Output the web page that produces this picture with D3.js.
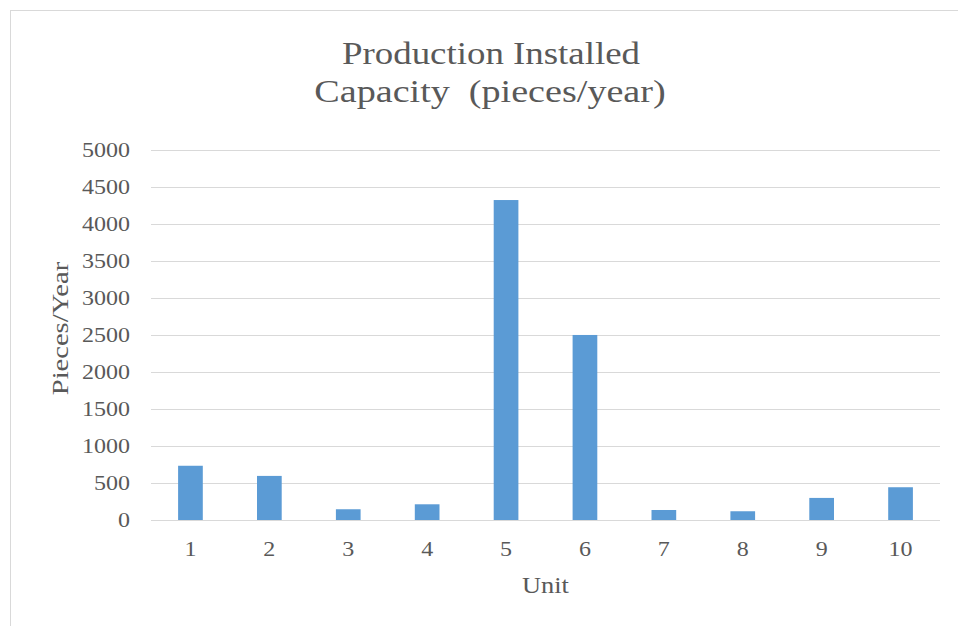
<!DOCTYPE html>
<html>
<head>
<meta charset="utf-8">
<script src="https://cdn.jsdelivr.net/npm/d3@7"></script>
<style>
  html, body { margin: 0; padding: 0; background: #fff; }
  svg { display: block; font-family: "Liberation Serif", "Times New Roman", serif; }
</style>
</head>
<body>
<div id="chart"></div>
<script>
const units = ["1", "2", "3", "4", "5", "6", "7", "8", "9", "10"];
const capacity = [732, 595, 145, 212, 4318, 2497, 135, 118, 298, 442];
const yTicks = [0, 500, 1000, 1500, 2000, 2500, 3000, 3500, 4000, 4500, 5000];
const titleLines = ["Production Installed", "Capacity  (pieces/year)"];

const width = 958, height = 626;
const margin = { top: 149.5, right: 18, bottom: 106, left: 151 };
const TEXT = "#595959";
const STRETCH = 1.2; // the reference font renders wider than Liberation Serif

const svg = d3.select("#chart").append("svg")
    .attr("width", width)
    .attr("height", height);

// chart area frame (cut off on right/bottom like the screenshot)
svg.append("rect")
    .attr("x", 10.5).attr("y", 10.5)
    .attr("width", width + 20).attr("height", height + 20)
    .attr("fill", "#fff")
    .attr("stroke", "#d9d9d9")
    .attr("stroke-width", 1);

const x = d3.scaleBand()
    .domain(units)
    .range([margin.left, width - margin.right])
    .paddingInner(0.687)
    .paddingOuter(0.3435);

const y = d3.scaleLinear()
    .domain([0, 5000])
    .range([height - margin.bottom, margin.top]);

// helper: text drawn at (tx,ty), widened along its own direction
function stretchedText(g, tx, ty, str, size, anchor, sx, rotate) {
    return g.append("text")
        .attr("transform", `translate(${tx},${ty})${rotate ? ` rotate(${rotate})` : ""} scale(${sx},1)`)
        .attr("text-anchor", anchor)
        .attr("fill", TEXT)
        .attr("font-size", size)
        .style("white-space", "pre")
        .text(str);
}

// gridlines
svg.append("g")
    .selectAll("line")
    .data(yTicks)
    .join("line")
    .attr("x1", margin.left)
    .attr("x2", width - margin.right)
    .attr("y1", d => Math.round(y(d)) + 0.5)
    .attr("y2", d => Math.round(y(d)) + 0.5)
    .attr("stroke", "#d9d9d9")
    .attr("stroke-width", 1);

// y tick labels
const gy = svg.append("g");
yTicks.forEach(d => stretchedText(gy, 130, y(d) + 7, String(d), 20, "end", STRETCH));

// bars
svg.append("g")
    .selectAll("rect")
    .data(capacity)
    .join("rect")
    .attr("x", (d, i) => x(units[i]))
    .attr("y", d => y(d))
    .attr("width", x.bandwidth())
    .attr("height", d => y(0) - y(d))
    .attr("fill", "#5b9bd5");

// x tick labels
const gx = svg.append("g");
units.forEach(d => stretchedText(gx, x(d) + x.bandwidth() / 2, 556, d, 20, "middle", STRETCH));

// title (two lines, second one a little wider in the reference)
const gt = svg.append("g");
stretchedText(gt, 491, 64, titleLines[0], 31, "middle", 1.19);
stretchedText(gt, 490, 102, titleLines[1], 31, "middle", 1.23);

// axis titles
stretchedText(svg, (margin.left + width - margin.right) / 2, 593, "Unit", 24, "middle", 1.1);
stretchedText(svg, 68, 328.5, "Pieces/Year", 24, "middle", 1.19, -90);
</script>
</body>
</html>
